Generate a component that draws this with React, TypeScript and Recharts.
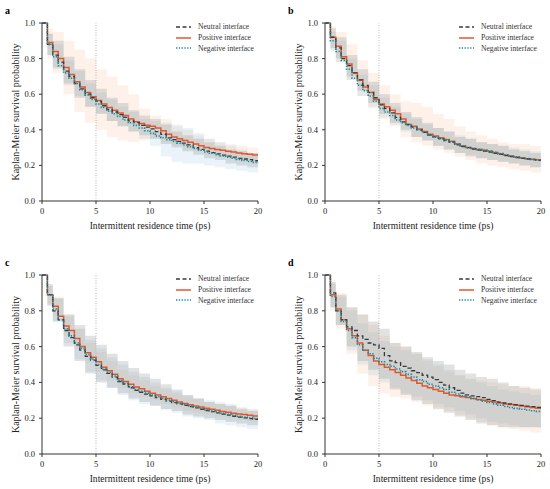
import React from 'react';
import { ComposedChart, Line, Area, XAxis, YAxis, ReferenceLine } from 'recharts';

// step times (ps) of the survival curves
const times = [
  0, 0.5, 1, 1.5, 2, 2.5, 3, 3.5, 4, 4.5, 5, 5.5, 6, 6.5, 7, 7.5, 8, 8.5, 9, 9.5, 10,
  10.5, 11, 11.5, 12, 12.5, 13, 13.5, 14, 14.5, 15, 15.5, 16, 16.5, 17, 17.5, 18, 18.5, 19, 19.5, 20,
];
// times at which the confidence bands are read
const bandTimes = [0.5, 1, 2, 3, 4, 5, 6, 7, 8, 9, 10, 11, 12, 13, 14, 15, 16, 17, 18, 19, 20];

const xTicks = [0, 5, 10, 15, 20];
const yTicks = [0, 0.2, 0.4, 0.6, 0.8, 1];

// panel a
const aNeutral = [1,
  0.88, 0.82, 0.78, 0.73, 0.70, 0.66, 0.63, 0.60, 0.58, 0.56,
  0.535, 0.515, 0.50, 0.485, 0.47, 0.45, 0.44, 0.425, 0.415, 0.405,
  0.39, 0.375, 0.355, 0.345, 0.335, 0.325, 0.315, 0.30, 0.29, 0.28,
  0.272, 0.265, 0.258, 0.252, 0.246, 0.24, 0.236, 0.232, 0.226, 0.222];
const aPositive = [1,
  0.89, 0.84, 0.80, 0.75, 0.71, 0.67, 0.64, 0.61, 0.585, 0.565,
  0.545, 0.525, 0.51, 0.495, 0.48, 0.46, 0.445, 0.435, 0.425, 0.42,
  0.41, 0.395, 0.375, 0.36, 0.35, 0.34, 0.33, 0.32, 0.31, 0.30,
  0.295, 0.29, 0.285, 0.28, 0.275, 0.27, 0.266, 0.262, 0.258, 0.255];
const aNegative = [1,
  0.88, 0.81, 0.76, 0.72, 0.69, 0.66, 0.625, 0.595, 0.57, 0.545,
  0.525, 0.505, 0.49, 0.475, 0.455, 0.44, 0.425, 0.41, 0.395, 0.38,
  0.365, 0.355, 0.345, 0.335, 0.325, 0.315, 0.305, 0.295, 0.285, 0.275,
  0.268, 0.26, 0.253, 0.246, 0.24, 0.234, 0.228, 0.222, 0.217, 0.212];
const aNeutralLo = [0.82, 0.75, 0.66, 0.58, 0.53, 0.49, 0.45, 0.42, 0.39, 0.37, 0.35, 0.32, 0.30, 0.28, 0.26, 0.24, 0.23, 0.21, 0.20, 0.19, 0.18];
const aNeutralHi = [0.94, 0.90, 0.81, 0.74, 0.68, 0.63, 0.58, 0.55, 0.51, 0.48, 0.46, 0.43, 0.39, 0.37, 0.35, 0.33, 0.31, 0.29, 0.28, 0.27, 0.26];
const aPositiveLo = [0.80, 0.72, 0.60, 0.50, 0.44, 0.40, 0.36, 0.34, 0.33, 0.34, 0.35, 0.33, 0.31, 0.29, 0.28, 0.26, 0.25, 0.24, 0.23, 0.22, 0.22];
const aPositiveHi = [0.97, 0.95, 0.90, 0.85, 0.80, 0.74, 0.70, 0.65, 0.60, 0.52, 0.48, 0.46, 0.42, 0.40, 0.37, 0.35, 0.33, 0.32, 0.31, 0.30, 0.29];
const aNegativeLo = [0.82, 0.74, 0.65, 0.59, 0.53, 0.49, 0.45, 0.42, 0.39, 0.35, 0.31, 0.25, 0.22, 0.21, 0.21, 0.20, 0.19, 0.18, 0.17, 0.16, 0.15];
const aNegativeHi = [0.94, 0.88, 0.79, 0.73, 0.66, 0.61, 0.57, 0.53, 0.50, 0.46, 0.45, 0.44, 0.43, 0.41, 0.38, 0.35, 0.33, 0.31, 0.29, 0.27, 0.26];

// panel b
const bNeutral = [1,
  0.92, 0.86, 0.80, 0.76, 0.72, 0.68, 0.65, 0.61, 0.58, 0.54,
  0.52, 0.495, 0.47, 0.445, 0.43, 0.415, 0.40, 0.385, 0.37, 0.36,
  0.35, 0.34, 0.33, 0.315, 0.305, 0.30, 0.292, 0.286, 0.28, 0.275,
  0.268, 0.262, 0.255, 0.25, 0.244, 0.24, 0.236, 0.232, 0.228, 0.225];
const bPositive = [1,
  0.92, 0.87, 0.81, 0.77, 0.72, 0.68, 0.64, 0.61, 0.57, 0.545,
  0.53, 0.51, 0.49, 0.46, 0.43, 0.42, 0.405, 0.39, 0.375, 0.365,
  0.355, 0.345, 0.335, 0.32, 0.31, 0.30, 0.295, 0.29, 0.285, 0.28,
  0.272, 0.265, 0.258, 0.252, 0.247, 0.242, 0.238, 0.235, 0.232, 0.23];
const bNegative = [1,
  0.90, 0.84, 0.79, 0.74, 0.69, 0.65, 0.62, 0.59, 0.56, 0.52,
  0.50, 0.48, 0.455, 0.44, 0.425, 0.41, 0.40, 0.385, 0.37, 0.36,
  0.35, 0.34, 0.33, 0.32, 0.31, 0.30, 0.295, 0.29, 0.285, 0.28,
  0.273, 0.266, 0.26, 0.254, 0.248, 0.243, 0.238, 0.234, 0.23, 0.227];
const bNeutralLo = [0.86, 0.80, 0.70, 0.62, 0.55, 0.49, 0.44, 0.40, 0.36, 0.34, 0.31, 0.29, 0.27, 0.25, 0.24, 0.23, 0.22, 0.21, 0.20, 0.19, 0.19];
const bNeutralHi = [0.97, 0.92, 0.82, 0.74, 0.67, 0.60, 0.55, 0.50, 0.47, 0.44, 0.41, 0.39, 0.36, 0.35, 0.33, 0.32, 0.31, 0.29, 0.28, 0.27, 0.26];
const bPositiveLo = [0.84, 0.78, 0.68, 0.59, 0.52, 0.46, 0.42, 0.36, 0.33, 0.31, 0.29, 0.27, 0.25, 0.23, 0.21, 0.20, 0.19, 0.18, 0.17, 0.16, 0.15];
const bPositiveHi = [0.98, 0.95, 0.88, 0.79, 0.72, 0.65, 0.60, 0.56, 0.55, 0.53, 0.49, 0.46, 0.42, 0.39, 0.37, 0.35, 0.33, 0.32, 0.32, 0.31, 0.31];
const bNegativeLo = [0.85, 0.78, 0.68, 0.59, 0.53, 0.47, 0.43, 0.39, 0.36, 0.34, 0.31, 0.29, 0.27, 0.26, 0.24, 0.23, 0.22, 0.21, 0.20, 0.19, 0.19];
const bNegativeHi = [0.95, 0.90, 0.80, 0.71, 0.65, 0.58, 0.53, 0.49, 0.46, 0.43, 0.41, 0.39, 0.37, 0.35, 0.33, 0.32, 0.31, 0.30, 0.29, 0.28, 0.27];

// panel c
const cNeutral = [1,
  0.89, 0.80, 0.75, 0.69, 0.65, 0.61, 0.58, 0.545, 0.525, 0.495,
  0.47, 0.45, 0.43, 0.405, 0.39, 0.37, 0.355, 0.345, 0.335, 0.325,
  0.315, 0.305, 0.295, 0.287, 0.28, 0.272, 0.265, 0.258, 0.25, 0.243,
  0.237, 0.23, 0.223, 0.217, 0.211, 0.206, 0.202, 0.198, 0.194, 0.19];
const cPositive = [1,
  0.89, 0.825, 0.77, 0.715, 0.69, 0.645, 0.60, 0.565, 0.54, 0.515,
  0.485, 0.465, 0.445, 0.42, 0.405, 0.39, 0.375, 0.365, 0.35, 0.34,
  0.33, 0.32, 0.31, 0.30, 0.29, 0.282, 0.275, 0.268, 0.262, 0.256,
  0.25, 0.244, 0.238, 0.233, 0.228, 0.224, 0.22, 0.216, 0.212, 0.21];
const cNegative = [1,
  0.89, 0.81, 0.75, 0.70, 0.66, 0.62, 0.59, 0.555, 0.53, 0.50,
  0.475, 0.455, 0.435, 0.41, 0.395, 0.375, 0.36, 0.35, 0.34, 0.33,
  0.32, 0.31, 0.30, 0.292, 0.284, 0.276, 0.268, 0.261, 0.254, 0.247,
  0.24, 0.234, 0.228, 0.222, 0.216, 0.211, 0.206, 0.202, 0.198, 0.195];
const cNeutralLo = [0.83, 0.74, 0.60, 0.52, 0.45, 0.40, 0.37, 0.34, 0.31, 0.29, 0.27, 0.25, 0.24, 0.22, 0.21, 0.20, 0.19, 0.18, 0.17, 0.16, 0.16];
const cNeutralHi = [0.95, 0.87, 0.78, 0.72, 0.66, 0.61, 0.56, 0.52, 0.48, 0.45, 0.42, 0.39, 0.36, 0.33, 0.31, 0.29, 0.28, 0.27, 0.25, 0.24, 0.23];
const cPositiveLo = [0.84, 0.77, 0.66, 0.59, 0.51, 0.46, 0.41, 0.37, 0.34, 0.32, 0.30, 0.28, 0.26, 0.24, 0.23, 0.22, 0.21, 0.20, 0.19, 0.18, 0.18];
const cPositiveHi = [0.94, 0.88, 0.78, 0.70, 0.62, 0.57, 0.52, 0.47, 0.44, 0.41, 0.38, 0.36, 0.34, 0.32, 0.31, 0.29, 0.28, 0.27, 0.26, 0.25, 0.25];
const cNegativeLo = [0.83, 0.74, 0.62, 0.53, 0.46, 0.41, 0.37, 0.33, 0.30, 0.28, 0.27, 0.25, 0.23, 0.21, 0.20, 0.19, 0.17, 0.16, 0.15, 0.14, 0.14];
const cNegativeHi = [0.94, 0.87, 0.77, 0.70, 0.64, 0.59, 0.54, 0.50, 0.46, 0.43, 0.40, 0.37, 0.35, 0.33, 0.31, 0.30, 0.29, 0.28, 0.26, 0.25, 0.24];

// panel d
const dNeutral = [1,
  0.90, 0.80, 0.75, 0.71, 0.69, 0.66, 0.64, 0.62, 0.61, 0.59,
  0.55, 0.52, 0.51, 0.49, 0.48, 0.465, 0.455, 0.44, 0.43, 0.415,
  0.40, 0.385, 0.37, 0.355, 0.34, 0.33, 0.325, 0.32, 0.315, 0.305,
  0.298, 0.29, 0.285, 0.28, 0.276, 0.272, 0.268, 0.265, 0.26, 0.252];
const dPositive = [1,
  0.89, 0.81, 0.75, 0.70, 0.66, 0.62, 0.58, 0.55, 0.52, 0.50,
  0.485, 0.47, 0.455, 0.44, 0.425, 0.41, 0.395, 0.38, 0.37, 0.36,
  0.35, 0.34, 0.33, 0.325, 0.32, 0.315, 0.31, 0.305, 0.30, 0.295,
  0.29, 0.285, 0.28, 0.276, 0.272, 0.268, 0.264, 0.26, 0.255, 0.25];
const dNegative = [1,
  0.88, 0.80, 0.74, 0.69, 0.65, 0.61, 0.58, 0.56, 0.535, 0.515,
  0.50, 0.49, 0.475, 0.46, 0.445, 0.43, 0.415, 0.405, 0.39, 0.38,
  0.37, 0.36, 0.345, 0.335, 0.325, 0.318, 0.31, 0.302, 0.295, 0.288,
  0.28, 0.272, 0.265, 0.26, 0.255, 0.25, 0.246, 0.242, 0.238, 0.235];
const dNeutralLo = [0.82, 0.72, 0.60, 0.52, 0.47, 0.42, 0.36, 0.33, 0.30, 0.28, 0.25, 0.23, 0.21, 0.19, 0.17, 0.16, 0.15, 0.15, 0.15, 0.15, 0.15];
const dNeutralHi = [0.96, 0.89, 0.82, 0.78, 0.74, 0.70, 0.62, 0.60, 0.57, 0.54, 0.52, 0.50, 0.47, 0.45, 0.43, 0.42, 0.40, 0.38, 0.37, 0.36, 0.35];
const dPositiveLo = [0.80, 0.70, 0.56, 0.45, 0.38, 0.34, 0.32, 0.31, 0.29, 0.27, 0.26, 0.24, 0.22, 0.20, 0.18, 0.16, 0.15, 0.14, 0.13, 0.12, 0.12];
const dPositiveHi = [0.97, 0.90, 0.82, 0.78, 0.72, 0.66, 0.62, 0.60, 0.56, 0.52, 0.49, 0.46, 0.44, 0.42, 0.41, 0.40, 0.39, 0.38, 0.38, 0.37, 0.36];
const dNegativeLo = [0.82, 0.72, 0.58, 0.50, 0.44, 0.40, 0.37, 0.34, 0.32, 0.30, 0.28, 0.26, 0.24, 0.22, 0.20, 0.18, 0.17, 0.16, 0.15, 0.15, 0.14];
const dNegativeHi = [0.95, 0.88, 0.80, 0.73, 0.68, 0.63, 0.60, 0.58, 0.56, 0.53, 0.50, 0.47, 0.44, 0.42, 0.40, 0.38, 0.36, 0.35, 0.34, 0.33, 0.32];

const FONT = '"Liberation Serif", "Times New Roman", serif';
const C_NEUTRAL = '#3a3a3a';
const C_POSITIVE = '#e4572e';
const C_NEGATIVE = '#1a8a9c';

const buildLines = (neutral: number[], positive: number[], negative: number[]) =>
  times.map((t, i) => ({ t, neutral: neutral[i], positive: positive[i], negative: negative[i] }));

const buildBands = (nLo: number[], nHi: number[], pLo: number[], pHi: number[], gLo: number[], gHi: number[]) =>
  bandTimes.map((t, i) => ({
    t,
    neutral: [nLo[i], nHi[i]],
    positive: [pLo[i], pHi[i]],
    negative: [gLo[i], gHi[i]],
  }));

const panels = [
  {
    label: 'a', left: 0, top: 0, height: 245,
    margin: { top: 23, right: 17, left: 8, bottom: 14 },
    lines: buildLines(aNeutral, aPositive, aNegative),
    bands: buildBands(aNeutralLo, aNeutralHi, aPositiveLo, aPositiveHi, aNegativeLo, aNegativeHi),
  },
  {
    label: 'b', left: 275, top: 0, height: 245,
    margin: { top: 23, right: 9, left: 16, bottom: 14 },
    lines: buildLines(bNeutral, bPositive, bNegative),
    bands: buildBands(bNeutralLo, bNeutralHi, bPositiveLo, bPositiveHi, bNegativeLo, bNegativeHi),
  },
  {
    label: 'c', left: 0, top: 245, height: 244,
    margin: { top: 30, right: 17, left: 8, bottom: 5 },
    lines: buildLines(cNeutral, cPositive, cNegative),
    bands: buildBands(cNeutralLo, cNeutralHi, cPositiveLo, cPositiveHi, cNegativeLo, cNegativeHi),
  },
  {
    label: 'd', left: 275, top: 245, height: 244,
    margin: { top: 30, right: 9, left: 16, bottom: 5 },
    lines: buildLines(dNeutral, dPositive, dNegative),
    bands: buildBands(dNeutralLo, dNeutralHi, dPositiveLo, dPositiveHi, dNegativeLo, dNegativeHi),
  },
];

const legendItems = [
  { name: 'Neutral interface', color: C_NEUTRAL, dash: '4 2.5', width: 1.3 },
  { name: 'Positive interface', color: C_POSITIVE, dash: undefined, width: 1.5 },
  { name: 'Negative interface', color: C_NEGATIVE, dash: '1.3 1.5', width: 1.6 },
];

const YAXIS_W = 34;

function Panel({ p }: { p: (typeof panels)[number] }) {
  const plotLeft = p.margin.left + YAXIS_W;
  const tick = { fontSize: 8.5, fill: '#222', fontFamily: FONT };
  return (
    <div style={{ position: 'absolute', left: p.left, top: p.top, width: 275, height: p.height }}>
      <div style={{ position: 'absolute', left: plotLeft - 37, top: p.margin.top - 18, fontFamily: FONT, fontWeight: 'bold', fontSize: 10 }}>
        {p.label}
      </div>
      <ComposedChart width={275} height={p.height} margin={p.margin} style={{ fontFamily: FONT }}>
        <XAxis
          type="number"
          dataKey="t"
          domain={[0, 20]}
          ticks={xTicks}
          tickSize={3}
          tickMargin={4}
          height={30}
          stroke="#333"
          tick={tick}
          allowDataOverflow
          label={{ value: 'Intermittent residence time (ps)', position: 'insideBottom', offset: 2, style: { fontSize: 9.6, fill: '#222', fontFamily: FONT } }}
        />
        <YAxis
          type="number"
          domain={[0, 1]}
          ticks={yTicks}
          tickFormatter={(v: number) => v.toFixed(1)}
          tickSize={3}
          tickMargin={4}
          width={YAXIS_W}
          stroke="#333"
          tick={tick}
          label={{ value: 'Kaplan-Meier survival probability', angle: -90, position: 'insideLeft', offset: 7, style: { textAnchor: 'middle', fontSize: 10, fill: '#222', fontFamily: FONT } }}
        />
        <Area data={p.bands} dataKey="positive" type="stepAfter" stroke="none" fill="#f4a46c" fillOpacity={0.15} isAnimationActive={false} />
        <Area data={p.bands} dataKey="negative" type="stepAfter" stroke="none" fill="#79b4d9" fillOpacity={0.16} isAnimationActive={false} />
        <Area data={p.bands} dataKey="neutral" type="stepAfter" stroke="none" fill="#a0a0a0" fillOpacity={0.3} isAnimationActive={false} />
        <ReferenceLine x={5} stroke="#aaa" strokeWidth={0.8} strokeDasharray="1 1.5" />
        <Line data={p.lines} dataKey="positive" type="stepAfter" stroke={C_POSITIVE} strokeWidth={1.5} dot={false} activeDot={false} isAnimationActive={false} />
        <Line data={p.lines} dataKey="neutral" type="stepAfter" stroke={C_NEUTRAL} strokeWidth={1.3} strokeDasharray="4 2.5" dot={false} activeDot={false} isAnimationActive={false} />
        <Line data={p.lines} dataKey="negative" type="stepAfter" stroke={C_NEGATIVE} strokeWidth={1.6} strokeDasharray="1.3 1.5" dot={false} activeDot={false} isAnimationActive={false} />
      </ComposedChart>
      <div style={{ position: 'absolute', left: plotLeft + 134, top: p.margin.top - 1.5, fontFamily: FONT, fontSize: 7.6, color: '#333' }}>
        {legendItems.map((it) => (
          <div key={it.name} style={{ display: 'flex', alignItems: 'center', height: 10.8, whiteSpace: 'nowrap' }}>
            <svg width={15} height={4} style={{ marginRight: 7 }}>
              <line x1={0} y1={2} x2={15} y2={2} stroke={it.color} strokeWidth={it.width} strokeDasharray={it.dash} />
            </svg>
            <span>{it.name}</span>
          </div>
        ))}
      </div>
    </div>
  );
}

export default function App() {
  return (
    <div style={{ position: 'absolute', left: 0, top: 0, width: 550, height: 489, background: '#fff' }}>
      {panels.map((p) => (
        <Panel key={p.label} p={p} />
      ))}
    </div>
  );
}
